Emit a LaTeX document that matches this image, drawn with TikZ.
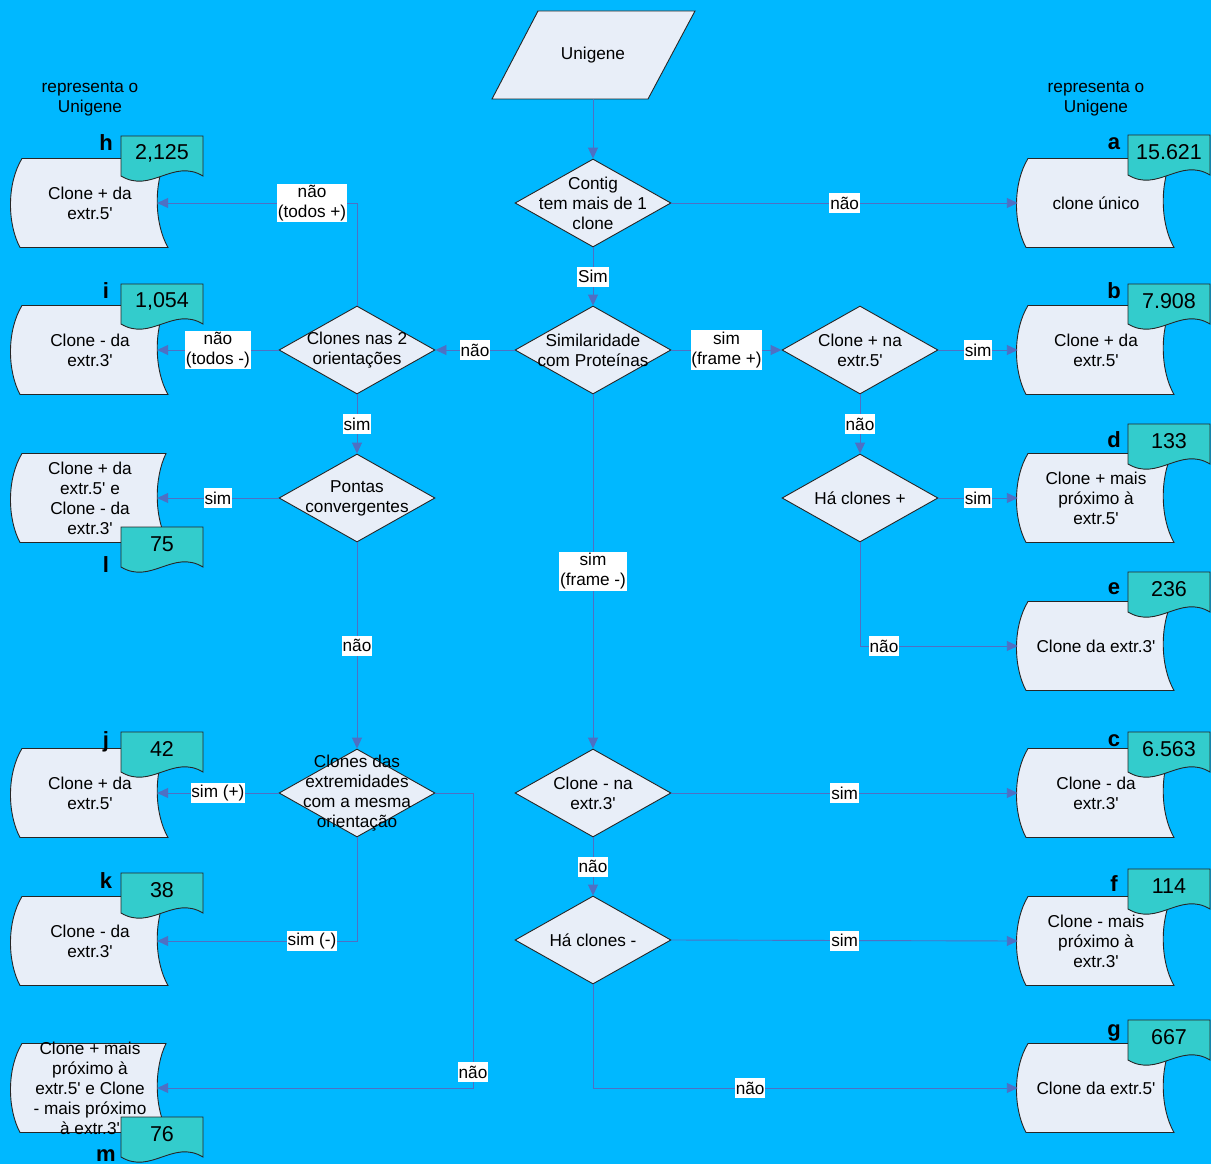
\documentclass[tikz,border=0pt]{standalone}
\usepackage{fontspec}
\setmainfont{Liberation Sans}[Ligatures=TeXOff]
\usetikzlibrary{shapes.geometric,arrows.meta}
\definecolor{bg}{RGB}{0,184,255}
\definecolor{docfill}{RGB}{232,238,248}
\definecolor{tagfill}{RGB}{51,204,204}
\definecolor{connc}{RGB}{78,112,196}
\newcommand{\fsz}{\fontsize{17.2}{20}\selectfont}
\newcommand{\DocShape}[2]{%
  \filldraw[docbody] ({#1-68},{#2-44.5}) -- ({#1+76},{#2-44.5})
    .. controls ({#1+64},{#2-20}) and ({#1+64},{#2+20}) .. ({#1+78},{#2+44.5})
    -- ({#1-70},{#2+44.5})
    .. controls ({#1-83},{#2+20}) and ({#1-83},{#2-20}) .. cycle;}
\newcommand{\TagShape}[4]{% name x0 y0 text
  \filldraw[tagbody] (#2,#3) -- ({#2+82},#3) -- ({#2+82},{#3+40})
    .. controls ({#2+52},{#3+22}) and ({#2+30},{#3+58}) .. (#2,{#3+40}) -- cycle;
  \node[tagtxt] (#1) at ({#2+41},{#3+17}) {#4};}
\tikzset{
  every node/.style={font=\fsz, text=black},
  shp/.style={draw=black!85, line width=0.9pt},
  docbody/.style={shp, fill=docfill},
  tagbody/.style={shp, fill=tagfill},
  dia/.style={diamond, shp, fill=docfill, minimum width=156pt, minimum height=88pt, inner sep=0pt},
  diatxt/.style={align=center, inner sep=0pt},
  conn/.style={draw=connc, line width=0.9pt, -{Triangle[length=11pt,width=10pt]}},
  lbl/.style={fill=white, inner xsep=0.8pt, inner ysep=1.5pt, align=center, minimum height=20pt},
  docL/.style={minimum width=134pt, minimum height=89pt, inner sep=0pt, align=center},
  docR/.style={minimum width=156pt, minimum height=89pt, inner sep=0pt, align=center},
  tagtxt/.style={font=\fontsize{21.5}{24}\selectfont, inner sep=0pt},
  letter/.style={font=\fontsize{22}{24}\selectfont\bfseries, anchor=base, inner sep=0pt},
}
\begin{document}
\begin{tikzpicture}[x=1pt,y=-1pt]
\fill[bg] (0,0) rectangle (1211,1164);
\useasboundingbox (0,0) rectangle (1211,1164);

% start
\filldraw[docbody] (538,11) -- (695,11) -- (648,99) -- (492,99) -- cycle;
\node[minimum width=150pt, minimum height=88pt, inner sep=0pt] (uni) at (593,55) {Unigene};

\node[align=center] (rep1) at (90,99) {representa o\\Unigene};
\node[align=center] (rep2) at (1096,99) {representa o\\Unigene};

% diamonds
\node[dia, label={[diatxt]center:Contig\\tem mais de 1\\clone}] (contig) at (593,203) {};
\node[dia, label={[diatxt]center:Similaridade\\com Proteínas}] (simil) at (593,350) {};
\node[dia, label={[diatxt]center:Clones nas 2\\orientações}] (clones2) at (357,350) {};
\node[dia, label={[diatxt]center:Clone + na\\extr.5'}] (cpos) at (860,350) {};
\node[dia, label={[diatxt]center:Pontas\\convergentes}] (pontas) at (357,498) {};
\node[dia, label={[diatxt]center:Há clones +}] (haclpos) at (860,498) {};
\node[dia, label={[diatxt]center:Clones das\\extremidades\\com a mesma\\orientação}] (clext) at (357,793) {};
\node[dia, label={[diatxt]center:Clone - na\\extr.3'}] (cneg) at (593,793) {};
\node[dia, label={[diatxt]center:Há clones -}] (haclneg) at (593,940) {};

% left documents
\DocShape{90}{203}  \node[docL] (h) at (90,203) {Clone + da\\extr.5'};
\DocShape{90}{350}  \node[docL] (i) at (90,350) {Clone - da\\extr.3'};
\DocShape{90}{498}  \node[docL] (l) at (90,498) {Clone + da\\extr.5' e\\Clone - da\\extr.3'};
\DocShape{90}{793}  \node[docL] (j) at (90,793) {Clone + da\\extr.5'};
\DocShape{90}{941}  \node[docL] (k) at (90,941) {Clone - da\\extr.3'};
\DocShape{90}{1088} \node[docL] (m) at (90,1088) {Clone + mais\\próximo à\\extr.5' e Clone\\- mais próximo\\à extr.3'};

% right documents
\DocShape{1096}{203}  \node[docR] (a) at (1096,203) {clone único};
\DocShape{1096}{350}  \node[docR] (b) at (1096,350) {Clone + da\\extr.5'};
\DocShape{1096}{498}  \node[docR] (d) at (1096,498) {Clone + mais\\próximo à\\extr.5'};
\DocShape{1096}{646}  \node[docR] (e) at (1096,646) {Clone da extr.3'};
\DocShape{1096}{793}  \node[docR] (c) at (1096,793) {Clone - da\\extr.3'};
\DocShape{1096}{941}  \node[docR] (f) at (1096,941) {Clone - mais\\próximo à\\extr.3'};
\DocShape{1096}{1088} \node[docR] (g) at (1096,1088) {Clone da extr.5'};

% tags
\TagShape{th}{121}{136}{2,125}
\TagShape{ti}{121}{284}{1,054}
\TagShape{tl}{121}{527}{75}
\TagShape{tj}{121}{732}{42}
\TagShape{tk}{121}{873}{38}
\TagShape{tm}{121}{1117}{76}
\TagShape{ta}{1128}{135}{15.621}
\TagShape{tb}{1128}{284}{7.908}
\TagShape{td}{1128}{424}{133}
\TagShape{te}{1128}{572}{236}
\TagShape{tc}{1128}{732}{6.563}
\TagShape{tf}{1128}{869}{114}
\TagShape{tg}{1128}{1020}{667}

% letters
\node[letter] (lh) at (106,150) {h};
\node[letter] (li) at (106,298) {i};
\node[letter] (ll) at (106,572) {l};
\node[letter] (lj) at (106,747) {j};
\node[letter] (lk) at (106,888) {k};
\node[letter] (lm) at (106,1161) {m};
\node[letter] (la) at (1114,149) {a};
\node[letter] (lb) at (1114,298) {b};
\node[letter] (ld) at (1114,447) {d};
\node[letter] (le) at (1114,594) {e};
\node[letter] (lc) at (1114,746) {c};
\node[letter] (lf) at (1114,891) {f};
\node[letter] (lg) at (1114,1036) {g};

% connectors
\draw[conn] (uni.south) -- (contig.north);
\draw[conn] (contig.east) -- node[lbl]{não} (a.west);
\draw[conn] (contig.south) -- node[lbl]{Sim} (simil.north);
\draw[conn] (simil.west) -- node[lbl]{não} (clones2.east);
\draw[conn] (simil.east) -- node[lbl]{sim\\(frame +)} (cpos.west);
\draw[conn] (cpos.east) -- node[lbl]{sim} (b.west);
\draw[conn] (cpos.south) -- node[lbl]{não} (haclpos.north);
\draw[conn] (haclpos.east) -- node[lbl]{sim} (d.west);
\draw[conn] (haclpos.south) |- node[lbl, pos=0.576]{não} (e.west);
\draw[conn] (simil.south) -- node[lbl]{sim\\(frame -)} (cneg.north);
\draw[conn] (cneg.east) -- node[lbl]{sim} (c.west);
\draw[conn] (cneg.south) -- node[lbl]{não} (haclneg.north);
\draw[conn] (haclneg.east) -- node[lbl]{sim} (f.west);
\draw[conn] (haclneg.south) |- node[lbl, pos=0.685]{não} (g.west);
\draw[conn] (clones2.north) |- node[lbl, pos=0.6125]{não\\(todos +)} (h.east);
\draw[conn] (clones2.west) -- node[lbl]{não\\(todos -)} (i.east);
\draw[conn] (clones2.south) -- node[lbl]{sim} (pontas.north);
\draw[conn] (pontas.west) -- node[lbl]{sim} (l.east);
\draw[conn] (pontas.south) -- node[lbl]{não} (clext.north);
\draw[conn] (clext.west) -- node[lbl]{sim (+)} (j.east);
\draw[conn] (clext.south) |- node[lbl, pos=0.6125]{sim (-)} (k.east);
\coordinate (mbend) at (473,793);
\draw[conn] (clext.east) -- (mbend) |- node[lbl, pos=0.473]{não} (m.east);
\end{tikzpicture}
\end{document}
